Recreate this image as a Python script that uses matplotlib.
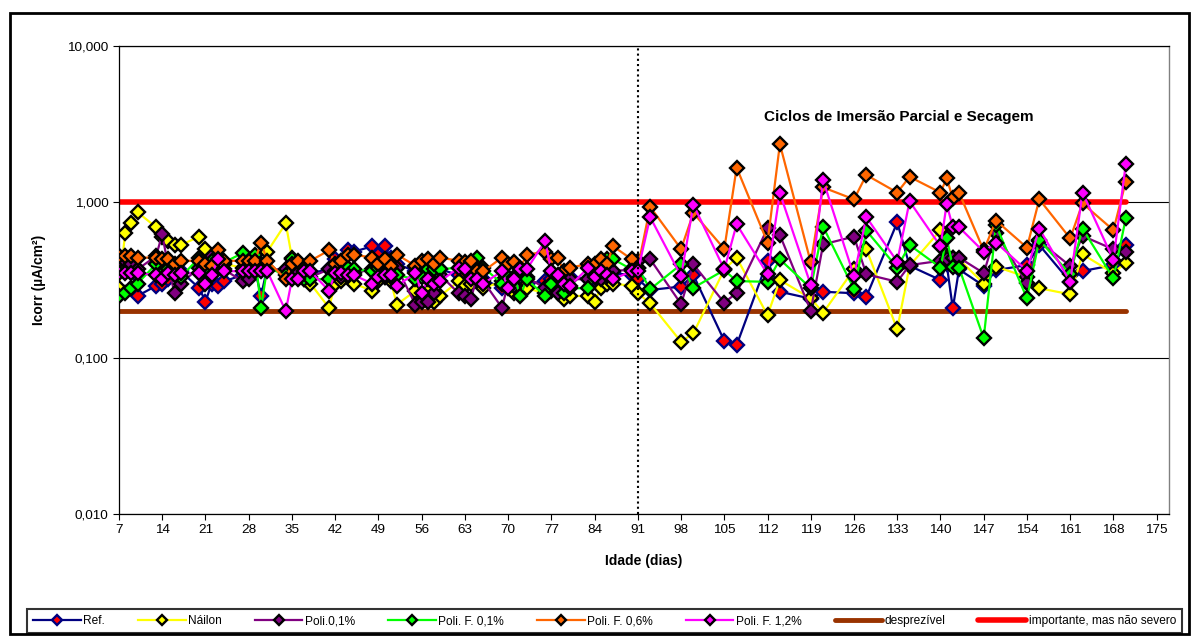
#!/usr/bin/env python3

import matplotlib
matplotlib.use("Agg")
import matplotlib.pyplot as plt
from matplotlib.patches import Rectangle
import numpy as np

plt.rcParams['font.family'] = ['Liberation Sans', 'DejaVu Sans']

# measurement days (weekdays until day 91, then wetting/drying cycles)
days = [7, 8, 9, 10,
        13, 14, 15, 16, 17, 20, 21, 22, 23, 24, 27, 28, 29, 30, 31,
        34, 35, 36, 37, 38, 41, 42, 43, 44, 45, 48, 49, 50, 51, 52,
        55, 56, 57, 58, 59, 62, 63, 64, 65, 66, 69, 70, 71, 72, 73,
        76, 77, 78, 79, 80, 83, 84, 85, 86, 87, 90, 91,
        93, 98, 100, 105, 107, 112, 114, 119, 121, 126, 128, 133, 135,
        140, 141, 142, 143, 147, 149, 154, 156, 161, 163, 168, 170]

ref = [0.45, 0.43, 0.38, 0.25,
       0.29, 0.30, 0.32, 0.34, 0.36, 0.28, 0.23, 0.30, 0.29, 0.31, 0.34, 0.38, 0.37, 0.25, 0.38,
       0.35, 0.33, 0.36, 0.34, 0.35, 0.37, 0.43, 0.42, 0.49, 0.48, 0.52, 0.46, 0.52, 0.44, 0.40,
       0.36, 0.35, 0.38, 0.35, 0.37, 0.34, 0.30, 0.31, 0.33, 0.32, 0.28, 0.30, 0.28, 0.30, 0.30,
       0.31, 0.32, 0.29, 0.30, 0.33, 0.32, 0.32, 0.32, 0.33, 0.35, 0.34, 0.32,
       0.273, 0.287, 0.34, 0.129, 0.121, 0.419, 0.266, 0.24, 0.266, 0.26, 0.247, 0.741, 0.39,
       0.316, 0.40, 0.208, 0.37, 0.29, 0.366, 0.394, 0.53, 0.308, 0.361, 0.394, 0.53]

nailon = [0.28, 0.63, 0.73, 0.86,
          0.69, 0.60, 0.56, 0.53, 0.53, 0.60, 0.50, 0.44, 0.45, 0.40, 0.38, 0.33, 0.40, 0.40, 0.48,
          0.73, 0.44, 0.33, 0.32, 0.30, 0.21, 0.30, 0.31, 0.33, 0.30, 0.27, 0.31, 0.33, 0.31, 0.22,
          0.27, 0.24, 0.27, 0.23, 0.25, 0.31, 0.29, 0.30, 0.33, 0.28, 0.31, 0.29, 0.26, 0.27, 0.28,
          0.26, 0.27, 0.28, 0.24, 0.25, 0.25, 0.23, 0.28, 0.30, 0.30, 0.29, 0.26,
          0.224, 0.127, 0.144, 0.37, 0.44, 0.188, 0.316, 0.241, 0.195, 0.37, 0.497, 0.153, 0.39,
          0.66, 0.45, 0.44, 0.43, 0.30, 0.385, 0.33, 0.28, 0.256, 0.462, 0.35, 0.409]

poli_01 = [0.42, 0.42, 0.40, 0.37,
           0.45, 0.62, 0.38, 0.26, 0.30, 0.38, 0.36, 0.45, 0.38, 0.37, 0.31, 0.32, 0.36, 0.38, 0.37,
           0.37, 0.36, 0.35, 0.33, 0.33, 0.37, 0.36, 0.33, 0.37, 0.35, 0.37, 0.35, 0.33, 0.38, 0.38,
           0.22, 0.23, 0.23, 0.26, 0.34, 0.26, 0.25, 0.24, 0.34, 0.31, 0.21, 0.30, 0.29, 0.33, 0.33,
           0.28, 0.30, 0.26, 0.30, 0.32, 0.32, 0.35, 0.32, 0.36, 0.36, 0.37, 0.42,
           0.43, 0.222, 0.398, 0.226, 0.262, 0.678, 0.614, 0.201, 0.535, 0.60, 0.344, 0.308, 0.394,
           0.42, 0.43, 0.44, 0.44, 0.35, 0.63, 0.301, 0.56, 0.389, 0.606, 0.497, 0.476]

poli_f_01 = [0.25, 0.26, 0.28, 0.30,
             0.40, 0.35, 0.37, 0.38, 0.33, 0.44, 0.38, 0.42, 0.40, 0.41, 0.47, 0.42, 0.46, 0.21, 0.38,
             0.34, 0.43, 0.41, 0.32, 0.32, 0.32, 0.35, 0.37, 0.38, 0.37, 0.36, 0.38, 0.35, 0.33, 0.34,
             0.32, 0.33, 0.37, 0.37, 0.37, 0.38, 0.37, 0.38, 0.44, 0.38, 0.30, 0.33, 0.33, 0.25, 0.32,
             0.25, 0.30, 0.33, 0.26, 0.28, 0.28, 0.34, 0.38, 0.43, 0.43, 0.37, 0.38,
             0.276, 0.398, 0.282, 0.366, 0.311, 0.308, 0.429, 0.28, 0.695, 0.276, 0.655, 0.38, 0.53,
             0.38, 0.59, 0.385, 0.38, 0.134, 0.71, 0.241, 0.57, 0.345, 0.675, 0.324, 0.786]

poli_f_06 = [0.45, 0.45, 0.45, 0.44,
             0.44, 0.43, 0.43, 0.40, 0.42, 0.42, 0.40, 0.39, 0.49, 0.42, 0.42, 0.42, 0.42, 0.55, 0.42,
             0.32, 0.40, 0.42, 0.38, 0.42, 0.49, 0.40, 0.42, 0.46, 0.46, 0.44, 0.40, 0.43, 0.39, 0.46,
             0.39, 0.42, 0.43, 0.40, 0.44, 0.42, 0.41, 0.42, 0.36, 0.36, 0.44, 0.40, 0.41, 0.38, 0.46,
             0.48, 0.43, 0.44, 0.36, 0.38, 0.40, 0.40, 0.43, 0.40, 0.52, 0.43, 0.38,
             0.93, 0.50, 0.85, 0.50, 1.66, 0.55, 2.35, 0.41, 1.24, 1.04, 1.49, 1.15, 1.45,
             1.15, 1.42, 1.06, 1.15, 0.49, 0.76, 0.51, 1.04, 0.585, 0.98, 0.66, 1.35]

poli_f_12 = [0.35, 0.35, 0.35, 0.35,
             0.34, 0.32, 0.35, 0.34, 0.35, 0.35, 0.30, 0.34, 0.43, 0.36, 0.36, 0.36, 0.36, 0.36, 0.36,
             0.20, 0.32, 0.32, 0.36, 0.36, 0.27, 0.35, 0.35, 0.34, 0.34, 0.30, 0.33, 0.34, 0.34, 0.29,
             0.35, 0.26, 0.32, 0.30, 0.31, 0.38, 0.37, 0.32, 0.32, 0.30, 0.36, 0.28, 0.32, 0.37, 0.37,
             0.56, 0.36, 0.34, 0.30, 0.29, 0.38, 0.33, 0.36, 0.34, 0.32, 0.36, 0.36,
             0.80, 0.335, 0.96, 0.37, 0.72, 0.345, 1.14, 0.294, 1.38, 0.335, 0.80, 0.415, 1.01,
             0.52, 0.97, 0.69, 0.69, 0.48, 0.55, 0.363, 0.675, 0.308, 1.15, 0.425, 1.75]

limit_days = [7, 170]
desprezivel = [0.2, 0.2]
importante = [1.0, 1.0]
cycle_start = 91

fig = plt.figure(figsize=(11.92, 6.36), dpi=100)
ax = fig.add_axes([119/1192, 1 - 514/636, (1169 - 119)/1192, (514 - 46)/636])

# limit lines under the data
l_desp, = ax.plot(limit_days, desprezivel, color='#993300', lw=3.5, solid_capstyle='round', zorder=2)
l_imp, = ax.plot(limit_days, importante, color='#FF0000', lw=4.0, solid_capstyle='round', zorder=2)

series = [
    (ref, 'Ref.', '#000080', '#FF0000', '#000080'),
    (nailon, 'Náilon', '#FFFF00', '#FFFF00', 'black'),
    (poli_01, 'Poli.0,1%', '#800080', '#800080', 'black'),
    (poli_f_01, 'Poli. F. 0,1%', '#00FF00', '#00FF00', 'black'),
    (poli_f_06, 'Poli. F. 0,6%', '#FF6600', '#FF6600', 'black'),
    (poli_f_12, 'Poli. F. 1,2%', '#FF00FF', '#FF00FF', 'black'),
]

handles = []
labels = []
for values, name, lc, fc, ec in series:
    h, = ax.plot(days, values, color=lc, lw=1.6, marker='D', markersize=7.3,
                 markerfacecolor=fc, markeredgecolor=ec, markeredgewidth=1.7, zorder=3)
    handles.append(h)
    labels.append(name)
handles += [l_desp, l_imp]
labels += ['desprezível', 'importante, mas não severo']

ax.axvline(cycle_start, color='black', ls=(0, (1, 1.5)), lw=1.5, zorder=4)

ax.set_yscale('log')
ax.set_ylim(0.01, 10)
ax.set_xlim(7, 177)
ax.set_yticks([0.01, 0.1, 1, 10])
ax.set_yticklabels(['0,010', '0,100', '1,000', '10,000'])
ax.yaxis.set_minor_locator(matplotlib.ticker.NullLocator())
ax.set_xticks(np.arange(7, 176, 7))
ax.tick_params(labelsize=9.7, length=4, width=0.8, direction='out')
ax.grid(True, axis='y', which='major', color='black', lw=0.8, zorder=1)

for side in ['left', 'bottom', 'top']:
    ax.spines[side].set_color('black')
    ax.spines[side].set_linewidth(0.9)
ax.spines['right'].set_color('#808080')
ax.spines['right'].set_linewidth(1.0)

ax.set_xlabel('Idade (dias)', fontsize=10, fontweight='bold', labelpad=13)
ax.set_ylabel('Icorr (µA/cm²)', fontsize=10, fontweight='bold', labelpad=15)

ax.text(133.3, 3.5, 'Ciclos de Imersão Parcial e Secagem', fontsize=11,
        fontweight='bold', ha='center', va='center')

leg = fig.legend(handles, labels, loc='lower left', ncol=8, mode='expand',
                 bbox_to_anchor=(27/1192, 1 - 633/636, (1182 - 27)/1192, 30/636),
                 fontsize=8.6, frameon=True, fancybox=False, edgecolor='black',
                 borderaxespad=0, numpoints=1, handlelength=4.0, handletextpad=0.2,
                 columnspacing=0.6, borderpad=0.5)
leg.get_frame().set_linewidth(1.5)
for lh in leg.legend_handles[:6]:
    lh.set_markersize(5)

# outer chart border
fig.patches.append(Rectangle((10/1192, 1 - 634/636), (1189 - 10)/1192, (634 - 13)/636,
                             transform=fig.transFigure, fill=False, edgecolor='black', lw=2))

fig.savefig('out.png', dpi=100)
